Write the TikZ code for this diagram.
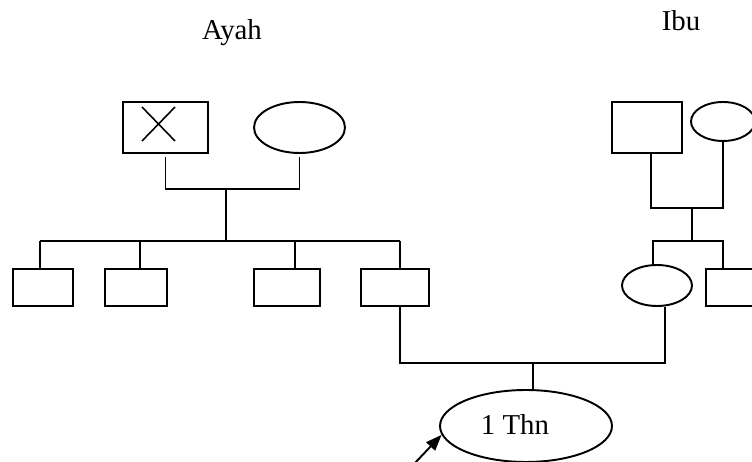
\documentclass[tikz,border=0pt]{standalone}
\usepackage{fontspec}
\setmainfont{Liberation Serif}
\usetikzlibrary{arrows.meta, positioning, shapes.geometric}

\tikzset{
    person/.style={draw, inner sep=0pt, line width=1.1pt},
    male/.style={person, rectangle, minimum height=0.74cm},
    female/.style={person, ellipse},
    link/.style={line width=1.1pt},
    caption/.style={anchor=base, font=\fontsize{16.4}{20}\selectfont}
}

\begin{document}
\begin{tikzpicture}[x=0.02cm, y=-0.02cm, >={Triangle[length=0.32cm, width=0.24cm]}]
    \useasboundingbox (0,0) rectangle (752,462);
    \clip (0,0) rectangle (752,462);

    % Ayah: kakek (meninggal) dan nenek
    \node[caption] (ayah) at (232,39.5) {Ayah};
    \node[male, minimum width=1.7cm, minimum height=1.02cm] (ayahF) at (165.5,127.5) {};
    \draw[line width=0.9pt] ([shift={(-23.5,-20.5)}]ayahF.center) -- ([shift={(9.5,13.5)}]ayahF.center)
        ([shift={(-23.5,13.5)}]ayahF.center) -- ([shift={(9.5,-20.5)}]ayahF.center);
    \node[female, minimum width=1.82cm, minimum height=1.02cm] (ayahM) at (299.5,127.5) {};
    \coordinate (ayahJ) at (226,189);
    \coordinate (ayahS) at (226,241);
    \draw[link, shorten <=2pt, shorten >=2pt] (ayahF.south) |- (ayahJ) -| (ayahM.south);
    \draw[link] (ayahJ) -- (ayahS);

    % saudara ayah
    \node[male, minimum width=1.2cm] (kid1) at (43,287.5) {};
    \node[male, minimum width=1.24cm] (kid2) at (136,287.5) {};
    \node[male, minimum width=1.32cm] (kid3) at (287,287.5) {};
    \node[male, minimum width=1.36cm] (kid4) at (395,287.5) {};
    \foreach \n/\x in {1/40, 2/140, 3/295, 4/400} {
        \coordinate (bar\n) at (\x,241);
        \draw[link] (bar\n) -- (bar\n |- kid\n.north);
    }
    \draw[link] (bar1) -- (bar4);

    % Ibu: kakek dan nenek
    \node[caption] (ibu) at (681,31) {Ibu};
    \node[male, minimum width=1.4cm, minimum height=1.02cm] (ibuF) at (647,127.5) {};
    \node[female, minimum width=1.28cm, minimum height=0.78cm] (ibuM) at (723,121.5) {};
    \coordinate (ibuJ) at (692,208);
    \coordinate (ibuS) at (692,241);
    \draw[link] ([xshift=0.08cm]ibuF.south) |- (ibuJ) -| (ibuM.south);
    \draw[link] (ibuJ) -- (ibuS);

    % ibu dan saudaranya
    \node[female, minimum width=1.4cm, minimum height=0.82cm] (sis) at (657,285.5) {};
    \node[male, minimum width=1.2cm] (bro) at (736,287.5) {};
    \coordinate (bar5) at (653,241);
    \coordinate (bar6) at (723,241);
    \draw[link] (bar5 |- sis.north) -- (bar5) -- (bar6) -- (bar6 |- bro.north);

    % pasien
    \coordinate (nikah) at (533,363);
    \draw[link] (bar4 |- kid4.south) |- (nikah) -| ([xshift=0.16cm]sis.south);
    \node[female, minimum width=3.44cm, minimum height=1.44cm] (child) at (526,426) {};
    \node[caption] (umur) at (515,435) {1 Thn};
    \draw[link] (nikah) -- (nikah |- child.north);
    \coordinate (tunjuk) at (414,464);
    \draw[link, ->] (tunjuk) -- (child.186);
\end{tikzpicture}
\end{document}
